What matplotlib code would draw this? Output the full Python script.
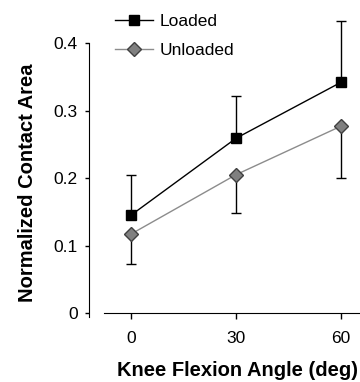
import matplotlib.pyplot as plt
import numpy as np

plt.rcParams['font.family'] = ['Liberation Sans', 'DejaVu Sans']

angles = [0, 30, 60]
loaded = [0.145, 0.259, 0.342]
loaded_err = [0.060, 0.062, 0.091]     # upper bars only
unloaded = [0.117, 0.205, 0.277]
unloaded_err = [0.044, 0.057, 0.077]   # lower bars only

fig = plt.figure(figsize=(3.6, 3.82), dpi=100)
ax = fig.add_axes([89/360, 1 - 313/382, 271/360, 313/382])

zeros = np.zeros(3)
ax.errorbar(angles, loaded, yerr=[zeros, loaded_err], color='black', lw=1,
            marker='s', ms=7.2, mfc='black', mec='black', capsize=3.5, capthick=1,
            elinewidth=1, label='Loaded', zorder=3)
ax.errorbar(angles, unloaded, yerr=[unloaded_err, zeros], color='#8c8c8c', lw=1,
            ecolor='black', marker='D', ms=7, mfc='#808080', mec='#404040',
            capsize=3.5, capthick=1, elinewidth=1, label='Unloaded', zorder=3)

ax.set_xlim(-12, 65.43)
ax.set_ylim(0, 0.464)
ax.set_xticks(angles)
ax.set_yticks([0, 0.1, 0.2, 0.3, 0.4])
ax.set_yticklabels(['0', '0.1', '0.2', '0.3', '0.4'])

for s in ['top', 'right']:
    ax.spines[s].set_visible(False)
ax.spines['left'].set_bounds(-0.006, 0.4)
ax.spines['bottom'].set_bounds(-7.7, 65.4)
ax.tick_params(axis='y', length=3, width=1, labelsize=12.5, pad=5)
ax.tick_params(axis='x', length=4, width=1, labelsize=12.5, pad=9)

ax.set_xlabel('Knee Flexion Angle (deg)', fontsize=14.5, fontweight='bold', labelpad=11)
ax.set_ylabel('Normalized Contact Area', fontsize=14.5, fontweight='bold', labelpad=12)
ax.xaxis.label.set_x(0.548)
ax.yaxis.label.set_y(0.417)

h, l = ax.get_legend_handles_labels()
h = [x[0] for x in h]
ax.legend(h, l, loc='upper left', bbox_to_anchor=(0.05, 0.995), frameon=False,
          fontsize=12.5, handlelength=2.2, handletextpad=0.4, labelspacing=0.8,
          borderaxespad=0.3)

fig.savefig('out.png', dpi=100)
